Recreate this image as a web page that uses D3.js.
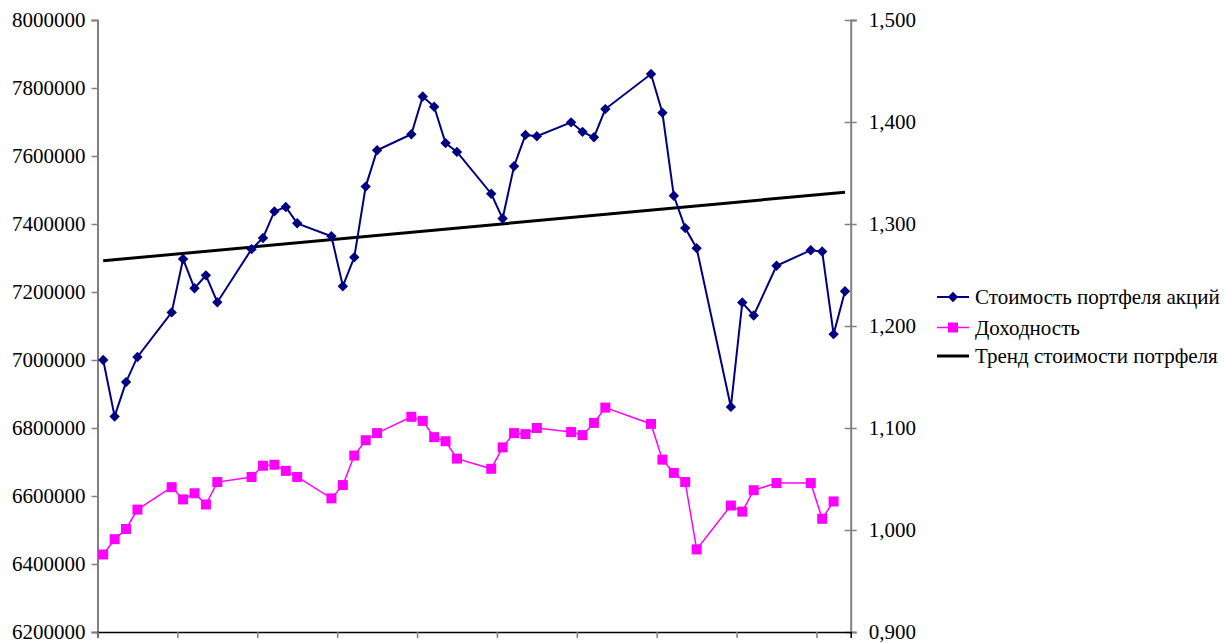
<!DOCTYPE html>
<html><head><meta charset="utf-8">
<script src="https://cdn.jsdelivr.net/npm/d3@7"></script>
<style>
html,body{margin:0;padding:0;background:#fff;}
svg{display:block;}
text{font-family:"Liberation Serif","Times New Roman",serif;fill:#000;}
</style></head>
<body>
<svg id="c" width="1226" height="643"></svg>
<script>
// Day offsets of the trading days (date axis, 1 unit = 1 day)
const days = [0,1,2,3, 6,7,8,9,10, 13,14,15,16,17, 20,21,22,23,24, 27,28,29,30,31,
  34,35,36,37,38, 41,42,43,44, 48,49,50,51,52, 55,56,57, 59, 62,63,64,65];
const portfolioValue = [7000000,6834000,6935000,7009000, 7140000,7297000,7211000,7249000,7170000,
  7326000,7359000,7437000,7450000,7402000, 7364000,7217000,7302000,7510000,7617000,
  7664000,7775000,7745000,7638000,7612000, 7489000,7416000,7570000,7662000,7658000,
  7699000,7671000,7655000,7738000, 7841000,7727000,7483000,7388000,7329000,
  6862000,7169000,7131000, 7277000, 7323000,7319000,7076000,7202000];
const returns = [0.976,0.991,1.001,1.020, 1.042,1.030,1.036,1.025,1.047,
  1.052,1.063,1.064,1.058,1.052, 1.031,1.044,1.073,1.088,1.095,
  1.111,1.107,1.091,1.087,1.070, 1.060,1.081,1.095,1.094,1.100,
  1.096,1.093,1.105,1.120, 1.104,1.069,1.056,1.047,0.981,
  1.024,1.018,1.039, 1.046, 1.046,1.011,1.028];
const leftTicks = [6200000,6400000,6600000,6800000,7000000,7200000,7400000,7600000,7800000,8000000];
const rightTicks = [0.9,1.0,1.1,1.2,1.3,1.4,1.5];
const xTicks = [0,7,14,21,28,35,42,49,56,63];
const seriesNames = ["Стоимость портфеля акций","Доходность","Тренд стоимости потрфеля"];

const svg = d3.select("#c");
const L = 97.5, R = 850.7, T = 20, B = 632;
const x = d3.scaleLinear().domain([0,66]).range([L,R]);
const yL = d3.scaleLinear().domain([6200000,8000000]).range([B,T]);
const yR = d3.scaleLinear().domain([0.9,1.5]).range([B,T]);
const px = d => x(d+0.5);

// trend (linear regression over dates)
const n = days.length;
const mx = d3.mean(days), my = d3.mean(portfolioValue);
let sxy=0, sxx=0;
for(let i=0;i<n;i++){sxy+=(days[i]-mx)*(portfolioValue[i]-my);sxx+=(days[i]-mx)**2;}
const slope = sxy/sxx, icpt = my - slope*mx;
const trendDays = [days[0], days[n-1]];

// axes
const fs = 21;
const gL = svg.append("g").attr("transform",`translate(${L},0)`)
  .call(d3.axisLeft(yL).tickValues(leftTicks).tickSize(6).tickPadding(6).tickFormat(d3.format("d")));
gL.select(".domain").attr("stroke","#808080").attr("stroke-width",2);
gL.selectAll(".tick line").attr("stroke","#808080").attr("stroke-width",1.5);
gL.selectAll("text").style("font-size",fs+"px").attr("font-family","Liberation Serif");

const gR = svg.append("g").attr("transform",`translate(${R},0)`)
  .call(d3.axisRight(yR).tickValues(rightTicks).tickSize(6).tickPadding(12)
  .tickFormat(d=>d3.format(".3f")(d).replace(".",",")));
gR.select(".domain").attr("stroke","#808080").attr("stroke-width",2);
gR.selectAll(".tick line").attr("stroke","#808080").attr("stroke-width",1.5).attr("x1",-6);
gR.selectAll("text").style("font-size",fs+"px").attr("font-family","Liberation Serif");

const gB = svg.append("g").attr("transform",`translate(0,${B})`)
  .call(d3.axisBottom(x).tickValues(xTicks).tickSize(6).tickFormat(""));
gB.select(".domain").attr("stroke","#000").attr("stroke-width",1.5);
gB.selectAll(".tick line").attr("stroke","#808080").attr("stroke-width",1.5);

// trend line
svg.append("path").datum(trendDays)
  .attr("d", d3.line().x(d=>px(d)).y(d=>yL(icpt+slope*d)))
  .attr("fill","none").attr("stroke","#000").attr("stroke-width",3);

// portfolio value
const blue = "#000080", pink = "#FF00FF";
svg.append("path").datum(days.map((d,i)=>[d,portfolioValue[i]]))
  .attr("d", d3.line().x(d=>px(d[0])).y(d=>yL(d[1])))
  .attr("fill","none").attr("stroke",blue).attr("stroke-width",2);
const diamond = s => `M0,${-s}L${s},0L0,${s}L${-s},0Z`;
svg.append("g").selectAll("path").data(days.map((d,i)=>[d,portfolioValue[i]])).join("path")
  .attr("transform",d=>`translate(${px(d[0])},${yL(d[1])})`)
  .attr("d",diamond(5.2)).attr("fill",blue);

// returns
const pd = returns.map((v,i)=>[days[i],v]);
svg.append("path").datum(pd)
  .attr("d", d3.line().x(d=>px(d[0])).y(d=>yR(d[1])))
  .attr("fill","none").attr("stroke",pink).attr("stroke-width",1.5);
svg.append("g").selectAll("rect").data(pd).join("rect")
  .attr("x",d=>px(d[0])-5).attr("y",d=>yR(d[1])-5).attr("width",10).attr("height",10).attr("fill",pink);

// legend
const lg = svg.append("g");
const rows = [297, 327.5, 356];
const lx0 = 937, lx1 = 969;
lg.append("line").attr("x1",lx0).attr("x2",lx1).attr("y1",rows[0]).attr("y2",rows[0]).attr("stroke",blue).attr("stroke-width",2);
lg.append("path").attr("transform",`translate(${(lx0+lx1)/2},${rows[0]})`).attr("d",diamond(5.2)).attr("fill",blue);
lg.append("line").attr("x1",lx0).attr("x2",lx1).attr("y1",rows[1]).attr("y2",rows[1]).attr("stroke",pink).attr("stroke-width",1.5);
lg.append("rect").attr("x",(lx0+lx1)/2-5).attr("y",rows[1]-5).attr("width",10).attr("height",10).attr("fill",pink);
lg.append("line").attr("x1",lx0).attr("x2",lx1).attr("y1",rows[2]).attr("y2",rows[2]).attr("stroke","#000").attr("stroke-width",3);
seriesNames.forEach((s,i)=>{
  lg.append("text").attr("x",975).attr("y",rows[i]).attr("dy","0.35em")
    .style("font-size",fs+"px").text(s);
});
</script>
</body></html>
